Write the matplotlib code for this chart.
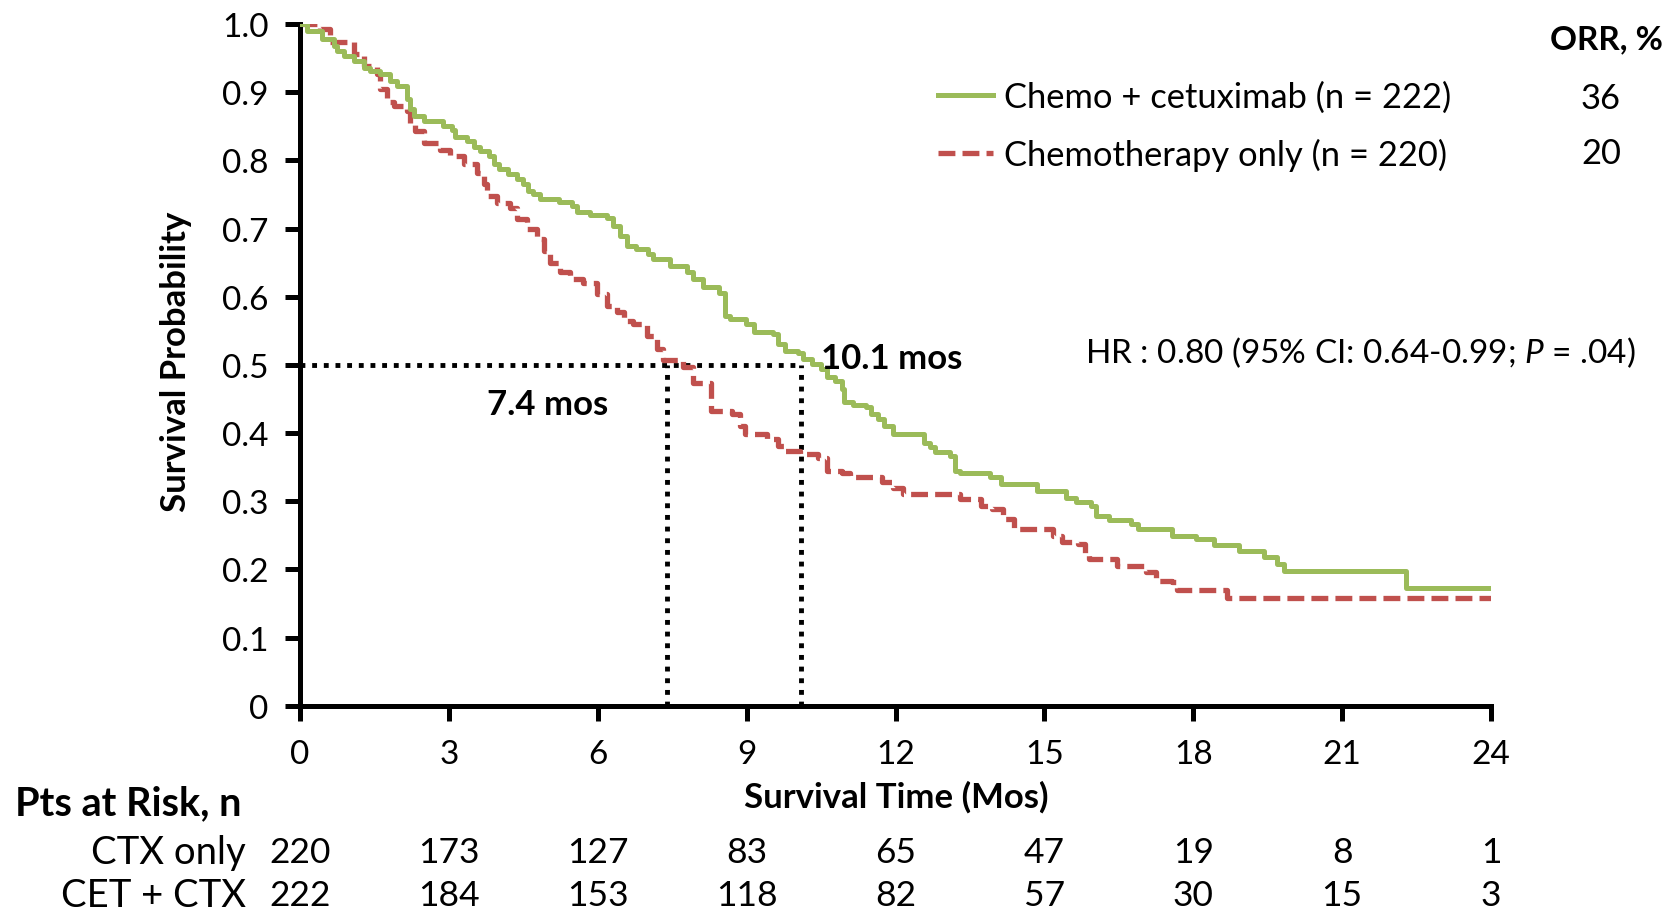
import matplotlib
matplotlib.use("Agg")
import matplotlib.pyplot as plt
import matplotlib.transforms as mtransforms

plt.rcParams['font.family'] = ['Lato', 'DejaVu Sans']
plt.rcParams['mathtext.fontset'] = 'custom'
plt.rcParams['mathtext.rm'] = 'Lato'
plt.rcParams['mathtext.it'] = 'Lato:italic'

# Kaplan-Meier steps (months, survival probability)
cet_time = [0, 0.14, 0.45, 0.68, 0.75, 0.88, 1.08, 1.28, 1.42, 1.62,
            1.82, 1.95, 2.16, 2.22, 2.29, 2.49, 2.89, 3.07, 3.13, 3.37,
            3.50, 3.63, 3.80, 3.90, 4.00, 4.20, 4.37, 4.50, 4.60, 4.70,
            4.84, 5.21, 5.48, 5.58, 5.85, 6.18, 6.31, 6.45, 6.58, 6.78,
            7.02, 7.12, 7.45, 7.79, 7.92, 8.12, 8.45, 8.56, 8.67, 8.99,
            9.14, 9.53, 9.64, 9.78, 10.03, 10.14, 10.32, 10.50, 10.61, 10.79,
            10.93, 10.97, 11.15, 11.40, 11.51, 11.65, 11.76, 11.94, 12.58, 12.69,
            12.80, 13.09, 13.20, 13.30, 13.91, 14.13, 14.85, 15.44, 15.64, 15.94,
            16.04, 16.31, 16.74, 16.88, 17.58, 18.05, 18.42, 18.92, 19.43, 19.69,
            19.83, 22.28, 24.0]
cet_surv = [1.0, 0.990, 0.978, 0.968, 0.961, 0.953, 0.946, 0.936, 0.931, 0.927,
            0.917, 0.909, 0.890, 0.875, 0.865, 0.857, 0.850, 0.844, 0.834, 0.829,
            0.819, 0.813, 0.807, 0.795, 0.787, 0.780, 0.773, 0.765, 0.755, 0.751,
            0.744, 0.739, 0.733, 0.724, 0.720, 0.716, 0.704, 0.689, 0.675, 0.670,
            0.663, 0.655, 0.645, 0.636, 0.626, 0.614, 0.606, 0.572, 0.567, 0.560,
            0.548, 0.545, 0.531, 0.521, 0.518, 0.509, 0.501, 0.494, 0.482, 0.477,
            0.465, 0.445, 0.441, 0.438, 0.428, 0.421, 0.411, 0.399, 0.386, 0.379,
            0.372, 0.367, 0.345, 0.342, 0.335, 0.325, 0.315, 0.304, 0.299, 0.293,
            0.278, 0.272, 0.267, 0.259, 0.249, 0.245, 0.236, 0.227, 0.218, 0.208,
            0.198, 0.172, 0.172]

ctx_time = [0, 0.41, 0.61, 1.08, 1.28, 1.55, 1.62, 1.75, 1.89, 2.16,
            2.22, 2.32, 2.49, 2.83, 3.03, 3.30, 3.56, 3.70, 3.77, 3.97,
            4.24, 4.37, 4.57, 4.77, 4.91, 5.04, 5.24, 5.44, 5.71, 5.98,
            6.18, 6.38, 6.52, 6.72, 6.99, 7.19, 7.32, 7.72, 7.92, 8.28,
            8.70, 8.86, 8.96, 9.42, 9.64, 9.78, 10.07, 10.43, 10.61, 10.93,
            11.08, 11.72, 11.94, 12.15, 13.30, 13.73, 13.95, 14.17, 14.38, 15.17,
            15.35, 15.68, 15.82, 15.90, 16.47, 17.05, 17.25, 17.58, 17.68, 18.68,
            24.0]
ctx_surv = [1.0, 0.993, 0.973, 0.956, 0.939, 0.927, 0.905, 0.885, 0.880, 0.873,
            0.855, 0.843, 0.826, 0.815, 0.807, 0.795, 0.782, 0.766, 0.748, 0.738,
            0.730, 0.714, 0.700, 0.685, 0.667, 0.650, 0.636, 0.626, 0.620, 0.604,
            0.587, 0.577, 0.565, 0.560, 0.543, 0.523, 0.507, 0.497, 0.474, 0.433,
            0.428, 0.410, 0.399, 0.391, 0.381, 0.374, 0.369, 0.364, 0.345, 0.342,
            0.335, 0.328, 0.320, 0.311, 0.303, 0.293, 0.288, 0.274, 0.259, 0.249,
            0.240, 0.237, 0.223, 0.215, 0.205, 0.196, 0.183, 0.181, 0.169, 0.158,
            0.158]

median_cet = 10.1
median_ctx = 7.4

risk_times = [0, 3, 6, 9, 12, 15, 18, 21, 24]
risk_ctx = [220, 173, 127, 83, 65, 47, 19, 8, 1]
risk_cet = [222, 184, 153, 118, 82, 57, 30, 15, 3]

labels = ['Chemo + cetuximab (n = 222)', 'Chemotherapy only (n = 220)']
orr = ['36', '20']

green = '#9BBB59'
red = '#C0504D'

W, H = 1677, 912
fig = plt.figure(figsize=(W / 100, H / 100), dpi=100)
ax = fig.add_axes([300 / W, 1 - 706.7 / H, 1191 / W, 681.7 / H])

# median guide lines
ax.hlines(0.5, 0, median_cet, colors='black', linewidth=3.5, linestyles=(0, (1, 1.4)), zorder=1)
ax.vlines([median_ctx, median_cet], 0, 0.5, colors='black', linewidth=3.5, linestyles=(0, (1, 1.4)), zorder=1)

l1, = ax.plot(cet_time, cet_surv, drawstyle='steps-post', color=green, linewidth=3.6, zorder=3)
l2, = ax.plot(ctx_time, ctx_surv, drawstyle='steps-post', color=red, linewidth=3.8,
              dashes=(3.2, 1.35), zorder=2)

ax.set_xlim(0, 24)
ax.set_ylim(0, 1.0)
ax.set_xticks(risk_times)
ax.set_xticklabels([str(t) for t in risk_times])
yt = [i / 10 for i in range(11)]
ax.set_yticks(yt)
ax.set_yticklabels(['0'] + ['%.1f' % v for v in yt[1:]])
for s in ['top', 'right']:
    ax.spines[s].set_visible(False)
for s in ['left', 'bottom']:
    ax.spines[s].set_linewidth(3.6)
ax.tick_params(axis='both', direction='out', length=10.5, width=3.6, labelsize=24)
ax.tick_params(axis='y', pad=12)
ax.tick_params(axis='x', pad=13.5)

fig.text(176 / W, 1 - 362 / H, 'Survival Probability', rotation=90, ha='center', va='center',
         fontsize=25, fontweight='bold')
fig.text(896 / W, 1 - 797 / H, 'Survival Time (Mos)', ha='center', va='center',
         fontsize=25, fontweight='bold')

ax.text(median_cet + 0.4, 0.51, '10.1 mos', ha='left', va='center', fontsize=25, fontweight='bold')
ax.text(3.77, 0.443, '7.4 mos', ha='left', va='center', fontsize=25, fontweight='bold')

ax.text(1636 / W, 1 - 353 / H, 'HR : 0.80 (95% CI: 0.64-0.99; $\\mathit{P}$ = .04)',
        transform=fig.transFigure, ha='right', va='center', fontsize=24)

leg = ax.legend([l1, l2], labels, loc='center left', bbox_to_anchor=(938 / W, 1 - 127 / H),
                bbox_transform=fig.transFigure, frameon=False, fontsize=24.8,
                handlelength=1.6, handletextpad=0.33, labelspacing=0.74,
                borderpad=0, borderaxespad=0)
fig.text(1663 / W, 1 - 40 / H, 'ORR, %', ha='right', va='center', fontsize=24, fontweight='bold')
for val, yy in zip(orr, [99, 154]):
    fig.text(1601 / W, 1 - yy / H, val, ha='center', va='center', fontsize=24.8)

# patients at risk table
fig.text(15 / W, 1 - 804 / H, 'Pts at Risk, n', ha='left', va='center', fontsize=28.5, fontweight='bold')
fig.text(246 / W, 1 - 853 / H, 'CTX only', ha='right', va='center', fontsize=27.5)
fig.text(246 / W, 1 - 896 / H, 'CET + CTX', ha='right', va='center', fontsize=27.5)
trans = mtransforms.blended_transform_factory(ax.transData, fig.transFigure)
for t, a, b in zip(risk_times, risk_ctx, risk_cet):
    ax.text(t, 1 - 853 / H, str(a), transform=trans, ha='center', va='center', fontsize=25.5, clip_on=False)
    ax.text(t, 1 - 896 / H, str(b), transform=trans, ha='center', va='center', fontsize=25.5, clip_on=False)

fig.savefig('out.png', dpi=100)
